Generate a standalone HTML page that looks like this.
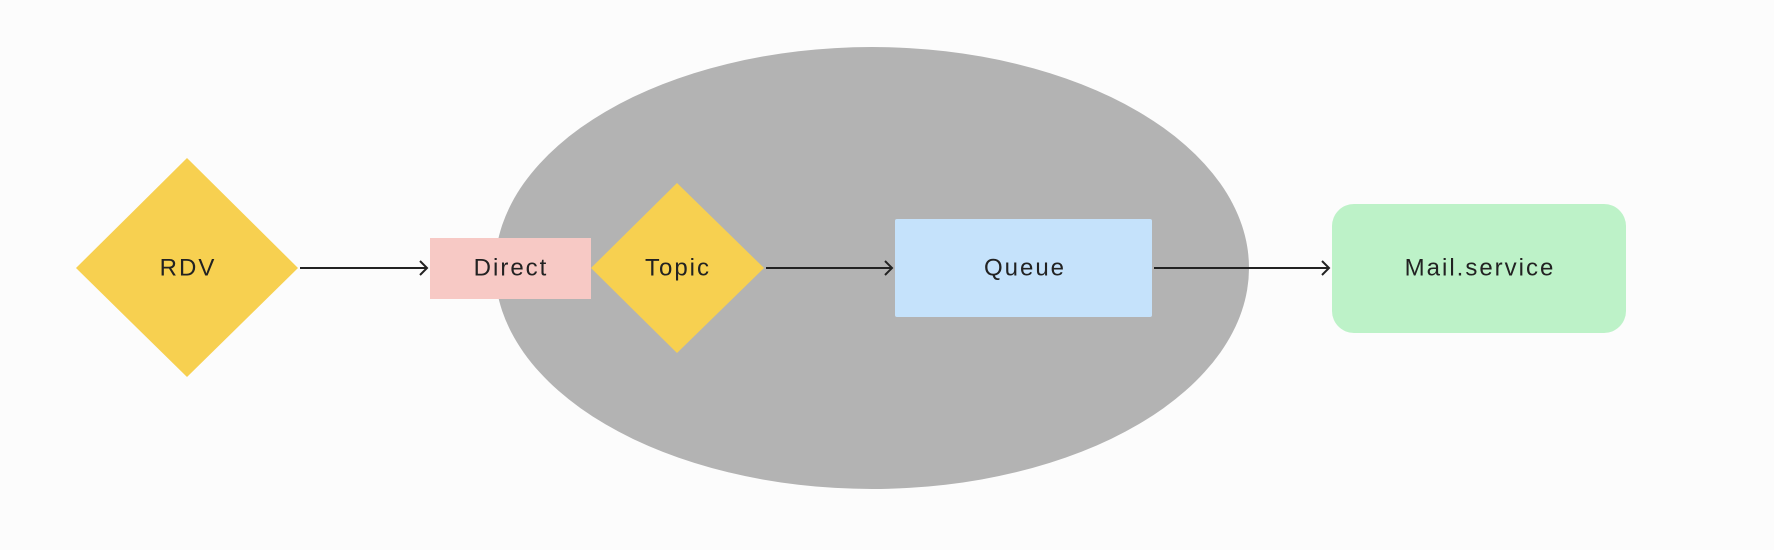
<!DOCTYPE html>
<html><head><meta charset="utf-8"><style>
html,body{margin:0;padding:0;background:#fcfcfc;}
svg{display:block}
text{font-family:"Liberation Sans",sans-serif;font-size:24px;letter-spacing:2px;fill:#222;text-anchor:middle;dominant-baseline:central}
</style></head><body>
<svg width="1774" height="550" viewBox="0 0 1774 550" xmlns="http://www.w3.org/2000/svg">
<rect width="1774" height="550" fill="#fcfcfc"/>
<ellipse cx="872" cy="268" rx="377" ry="221" fill="#b3b3b3"/>
<polygon points="187,158 298,268 187,377 76,268" fill="#f7d050"/>
<text x="188" y="268">RDV</text>
<rect x="430" y="238" width="161" height="61" fill="#f7c9c5"/>
<text x="511" y="268">Direct</text>
<polygon points="677,183 764,268 677,353 591,268" fill="#f7d050"/>
<text x="678" y="268">Topic</text>
<rect x="895" y="219" width="257" height="98" rx="2" fill="#c5e2fb"/>
<text x="1025" y="268">Queue</text>
<rect x="1332" y="204" width="294" height="129" rx="22" fill="#bdf2c8"/>
<text x="1480" y="268">Mail.service</text>
<g stroke="#222" stroke-width="2" fill="none">
<line x1="300" y1="268" x2="427" y2="268"/><polyline points="420,261 427,268 420,275"/>
<line x1="766" y1="268" x2="892" y2="268"/><polyline points="885,261 892,268 885,275"/>
<line x1="1154" y1="268" x2="1329" y2="268"/><polyline points="1322,261 1329,268 1322,275"/>
</g>
</svg>
</body></html>
